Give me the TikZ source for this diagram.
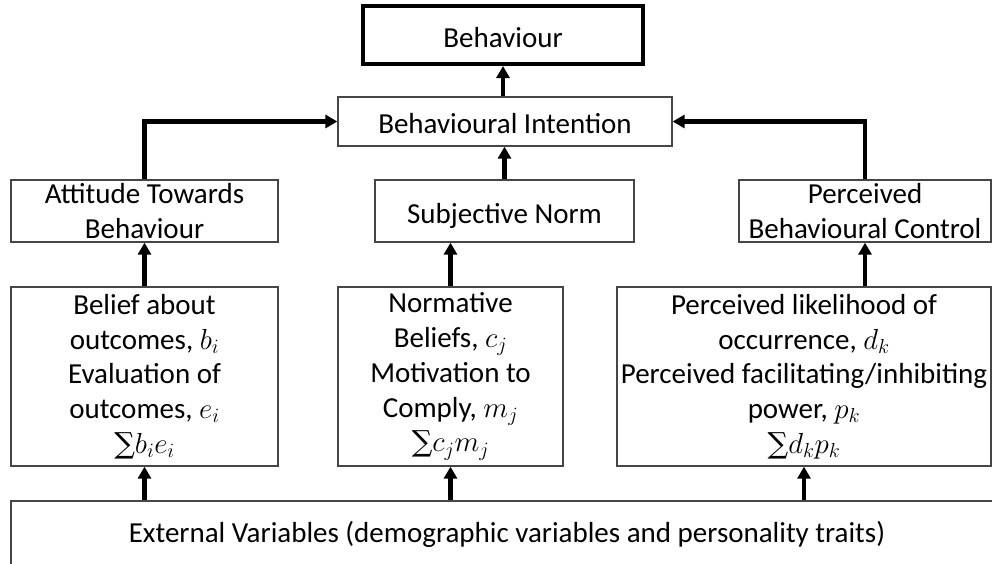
\RequirePackage{fix-cm}
\documentclass[tikz,border=0pt]{standalone}
\usepackage{amsmath}
\usepackage{fontspec}
\setmainfont{Carlito}
\newfontfamily\sumfont{DejaVu Serif}
\newcommand{\nsum}{{\sumfont ∑}}
\usetikzlibrary{arrows.meta}
\definecolor{edgegray}{RGB}{70,70,70}
\begin{document}
\begin{tikzpicture}[x=1pt,y=-1pt,
  every node/.style={font=\fontsize{29}{34.75}\selectfont, align=center, inner sep=0pt},
  box/.style={draw=edgegray, line width=1.3pt, fill=white},
  mainbox/.style={draw=black, line width=4pt, fill=white},
  oneline/.style={text height=25pt, text depth=1pt},
  arr/.style={line width=4.5pt, line join=miter, -{Triangle[width=13pt,length=12pt]}}]
\useasboundingbox (0,0) rectangle (992,563);
\clip (0,0) rectangle (992,563);

% top of the model
\node[mainbox, oneline, minimum width=280pt, minimum height=58pt] (beh) at (503,35) {Behaviour};
\node[box, oneline, minimum width=334pt, minimum height=49pt] (bi) at (505,121.5) {Behavioural Intention};

% the three determinants of intention
\node[box, minimum width=267pt, minimum height=62pt] (att) at (144.5,211) {Attitude Towards\\Behaviour};
\node[box, oneline, minimum width=259pt, minimum height=62pt] (sn) at (504.5,211) {Subjective Norm};
\node[box, minimum width=252pt, minimum height=62pt] (pbc) at (865,211) {Perceived\\Behavioural Control};

% belief components
\node[box, minimum width=267pt, minimum height=179pt] (bel) at (144.5,376.5)
  {Belief about\\outcomes, $b_i$\\Evaluation of\\outcomes, $e_i$\\\nsum$b_i e_i$};
\node[box, minimum width=225pt, minimum height=179pt] (nor) at (450.5,376.5)
  {Normative\\Beliefs, $c_j$\\Motivation to\\Comply, $m_j$\\\nsum$c_j m_j$};
\node[box, minimum width=374pt, minimum height=179pt] (pl) at (804,376.5)
  {Perceived likelihood of\\occurrence, $d_k$\\Perceived facilitating/inhibiting\\power, $p_k$\\\nsum$d_k p_k$};

% external variables, running past the right and bottom edges
\node[box, text height=25pt, text depth=25pt, minimum width=992pt, minimum height=82pt] (ext) at (507,542)
  {External Variables (demographic variables and personality traits)};

% connectors
\draw[arr] (beh.south |- bi.north) -- (beh.south);
\draw[arr] (sn.north) -- (sn.north |- bi.south);
\draw[arr] (att.north) |- (bi.west);
\draw[arr] (pbc.north) |- (bi.east);
\draw[arr] (bel.north) -- (att.south);
\draw[arr] (nor.north) -- (nor.north |- sn.south);
\draw[arr] (pbc.south |- pl.north) -- (pbc.south);
\draw[arr] (ext.north -| bel.south) -- (bel.south);
\draw[arr] (ext.north -| nor.south) -- (nor.south);
\draw[arr] (ext.north -| pl.south) -- (pl.south);
\end{tikzpicture}
\end{document}
